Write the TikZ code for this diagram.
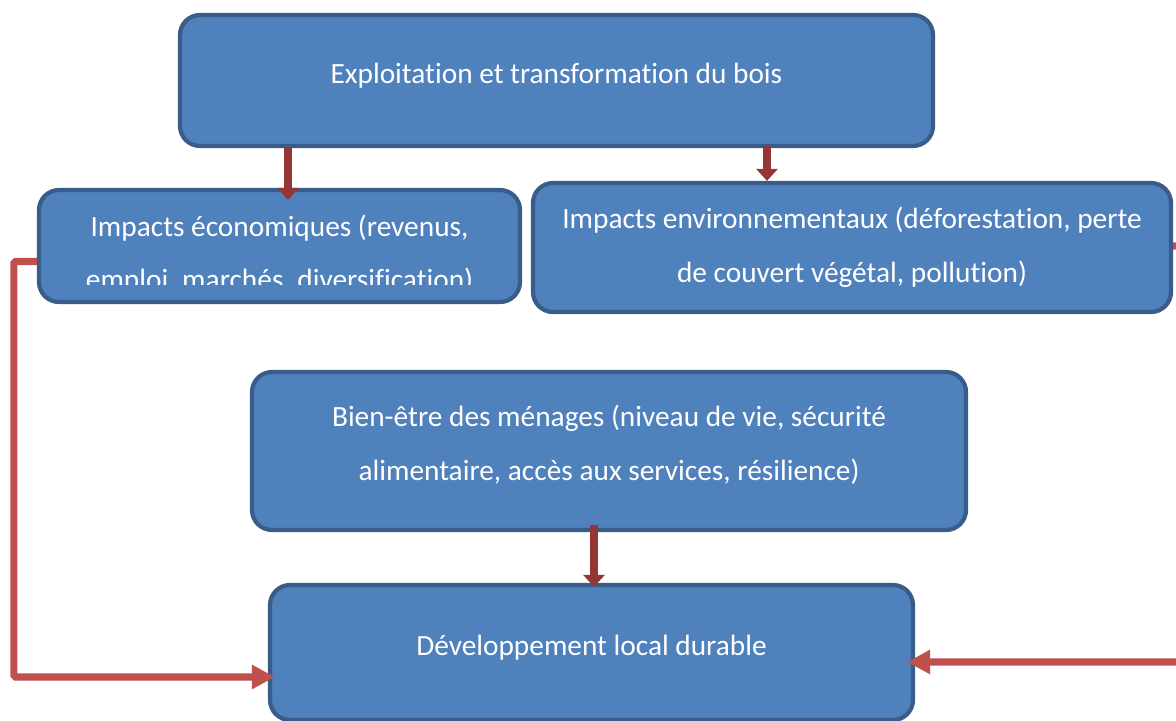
\documentclass[tikz,border=0pt]{standalone}
\usepackage{fontspec}
\setmainfont{Carlito}[Ligatures=NoCommon]
\usetikzlibrary{arrows.meta,calc}
\definecolor{boxfill}{HTML}{4F81BD}
\definecolor{boxline}{HTML}{385D8A}
\definecolor{darkred}{HTML}{943634}
\definecolor{lightred}{HTML}{C0504D}
\tikzset{
  bluebox/.style={rectangle, rounded corners=0.4cm, draw=boxline, fill=boxfill, line width=2.4pt},
  boxtext/.style={text=white, align=center, font=\fontsize{16.7}{30.5}\selectfont},
  darr/.style={-{Triangle[width=0.42cm,length=0.24cm]}, draw=darkred, line width=4.5pt},
  rarr/.style={-{Triangle[width=0.46cm,length=0.46cm]}, draw=lightred, line width=4pt}
}
\begin{document}
\begin{tikzpicture}
    \useasboundingbox (0,0) rectangle (23.52,-14.4);
    % the five boxes
    \node[bluebox, minimum width=15.06cm, minimum height=2.62cm] (expl) at (11.13,-1.61){};
    \node[bluebox, minimum width=9.62cm, minimum height=2.24cm] (ecoimp) at (5.59,-4.92){};
    \node[bluebox, minimum width=12.76cm, minimum height=2.58cm] (envimp) at (17.04,-4.95){};
    \node[bluebox, minimum width=14.28cm, minimum height=3.16cm] (bienetre) at (12.18,-9.02){};
    \node[bluebox, minimum width=12.86cm, minimum height=2.7cm] (devloc) at (11.83,-13.05){};
    % texts
    \node[boxtext] (explT) at ([yshift=0.1cm]expl.center){Exploitation et transformation du bois};
    \begin{scope}
      \clip (ecoimp.north west) rectangle ([yshift=0.4cm]ecoimp.south east);
      \node[boxtext] (ecoimpT) at ([yshift=-0.17cm]ecoimp.center){Impacts économiques (revenus,\\emploi, marchés, diversification)};
    \end{scope}
    \node[boxtext] (envimpT) at (envimp.center){Impacts environnementaux (déforestation, perte\\de couvert végétal, pollution)};
    \node[boxtext] (bienetreT) at ([yshift=0.12cm]bienetre.center){Bien-être des ménages (niveau de vie, sécurité\\alimentaire, accès aux services, résilience)};
    \node[boxtext] (devlocT) at ([yshift=0.1cm]devloc.center){Développement local durable};
    % arrows
    \coordinate (a1) at ([xshift=0.17cm]ecoimp.north);
    \draw[darr] (a1 |- expl.south) -- ([yshift=-0.24cm]a1);
    \coordinate (a2) at ([xshift=4.21cm,yshift=0.04cm]expl.south);
    \draw[darr] (a2) -- (a2 |- envimp.north);
    \coordinate (a3) at ([xshift=0.05cm,yshift=-0.08cm]devloc.north);
    \draw[darr] ([yshift=0.14cm]a3 |- bienetre.south) -- (a3);
    \draw[rarr, rounded corners=1pt] ([yshift=-0.31cm]ecoimp.west) -- ++(-0.46,0) |- ([xshift=0.14cm,yshift=-0.49cm]devloc.west);
    \draw[rarr, rounded corners=1pt] ([yshift=0.03cm]envimp.east) -- ++(0.8,0) |- ([xshift=-0.16cm,yshift=-0.19cm]devloc.east);
\end{tikzpicture}
\end{document}
